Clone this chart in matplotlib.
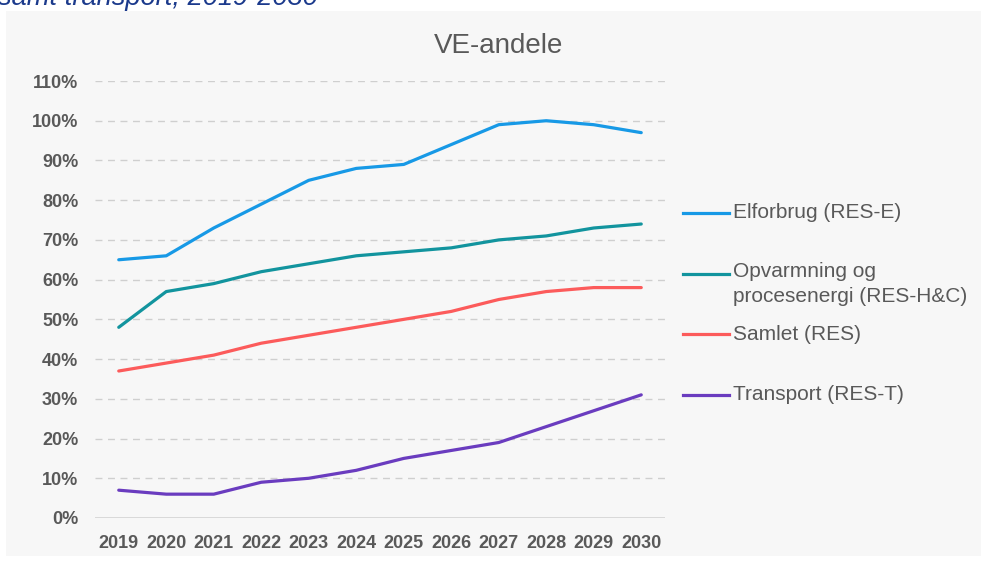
import matplotlib.pyplot as plt
from matplotlib.lines import Line2D
from matplotlib.patches import Rectangle

plt.rcParams['font.family'] = ['Liberation Sans', 'DejaVu Sans']

years = [2019, 2020, 2021, 2022, 2023, 2024, 2025, 2026, 2027, 2028, 2029, 2030]
elforbrug = [65, 66, 73, 79, 85, 88, 89, 94, 99, 100, 99, 97]
opvarmning = [48, 57, 59, 62, 64, 66, 67, 68, 70, 71, 73, 74]
samlet = [37, 39, 41, 44, 46, 48, 50, 52, 55, 57, 58, 58]
transport = [7, 6, 6, 9, 10, 12, 15, 17, 19, 23, 27, 31]

labels = ['Elforbrug (RES-E)', 'Opvarmning og\nprocesenergi (RES-H&C)', 'Samlet (RES)', 'Transport (RES-T)']
colors = ['#1799e6', '#12949e', '#fc5b5b', '#6a3cbf']
series = [elforbrug, opvarmning, samlet, transport]

W, H = 981, 561
fig = plt.figure(figsize=(W / 100, H / 100), dpi=100)
fig.patch.set_facecolor('white')

# grey chart panel
fig.add_artist(Rectangle((6 / W, 5 / H), 1 - 6 / W, (556 - 11) / H, transform=fig.transFigure,
                         facecolor='#f7f7f7', edgecolor='none', zorder=0))

# cropped caption at the top
fig.text(-2 / W, 1 - 5 / H, 'samt transport, 2019-2030', fontsize=19.6, style='italic',
         color='#1b3a8c', ha='left', va='baseline')

ax = fig.add_axes([95 / W, 1 - 518 / H, (665 - 95) / W, (518 - 81) / H])
ax.set_facecolor('none')

x = list(range(len(years)))
for vals, c in zip(series, colors):
    ax.plot(x, vals, color=c, lw=2.3, solid_capstyle='round', zorder=3)

ax.set_xlim(-0.5, len(years) - 0.5)
ax.set_ylim(0, 110)
ax.set_yticks(range(0, 111, 10))
ax.set_yticklabels([f'{v}%' for v in range(0, 111, 10)])
ax.set_xticks(x)
ax.set_xticklabels([str(y) for y in years])
ax.tick_params(length=0, labelsize=13, labelcolor='#595959', pad=12)
ax.tick_params(axis='y', pad=12)
for lab in ax.get_xticklabels() + ax.get_yticklabels():
    lab.set_fontweight('bold')
for s in ax.spines.values():
    s.set_visible(False)
for v in range(10, 111, 10):
    ax.axhline(v, color='#cfcfcf', lw=1, ls=(0, (5, 4)), zorder=1)
ax.axhline(0, color='#d4d4d4', lw=1.2, zorder=1)

fig.text(499 / W, 1 - 46 / H, 'VE-andele', fontsize=20, color='#595959', ha='center', va='center')

# legend drawn by hand
leg_y = [213, 274, 334, 395]
for lab, c, yy in zip(labels, colors, leg_y):
    fy = 1 - yy / H
    fig.add_artist(Line2D([683 / W, 729 / W], [fy, fy], color=c, lw=2.3, transform=fig.transFigure))
    if '\n' in lab:
        # first line centred on the handle
        fig.text(733 / W, 1 - (yy - 12) / H, lab, fontsize=15, color='#595959', ha='left', va='top',
                 linespacing=1.38)
    else:
        fig.text(733 / W, fy, lab, fontsize=15, color='#595959', ha='left', va='center')

fig.savefig('out.png', dpi=100)
